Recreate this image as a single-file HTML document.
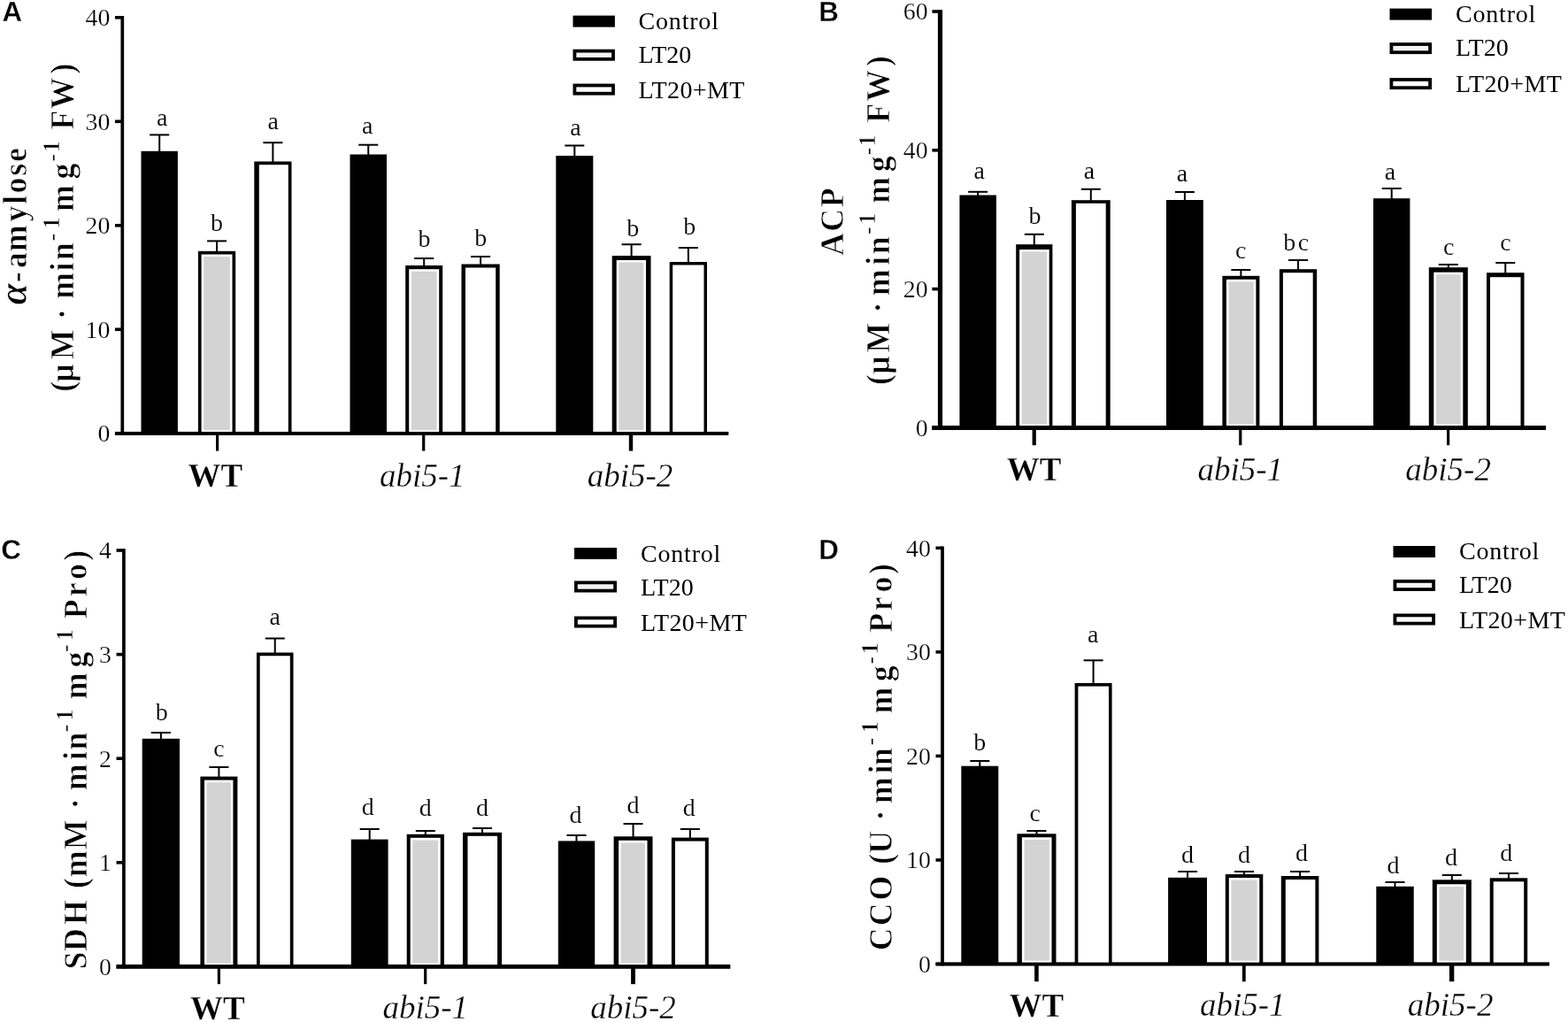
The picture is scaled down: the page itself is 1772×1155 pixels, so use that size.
<!DOCTYPE html>
<html lang="en">
<head>
<meta charset="utf-8">
<title>Figure</title>
<style>
html,body{margin:0;padding:0;background:#fff;}
body{width:1772px;height:1155px;overflow:hidden;}
svg{display:block;}
text{fill:#000;font-family:'Liberation Serif', 'DejaVu Serif', serif;stroke:#fff;stroke-width:0.45px;stroke-linejoin:round;}
.yl{stroke-width:0.7px;}
.gb{stroke-width:0.3px;}
.lt{stroke-width:0.15px;}
.tk{stroke-width:0.25px;}
.lg{stroke:none;}
.gi{stroke-width:0.3px;}
.lab{stroke-width:0.3px;}
.lab{font-family:'Liberation Sans', 'DejaVu Sans', sans-serif;font-weight:bold;}
.gb{font-weight:bold;}
.gi{font-style:italic;}
.yl{font-weight:bold;}
</style>
</head>
<body>
<svg width="1772" height="1155" viewBox="0 0 1772 1155">
<rect x="0" y="0" width="1772" height="1155" fill="#fff"/>
<text x="2.50" y="24.20" font-size="31.3" text-anchor="start" class="lab" >A</text>
<rect x="136.45" y="18.00" width="3.70" height="473.65" fill="#000" />
<rect x="129.95" y="487.95" width="693.25" height="3.70" fill="#000" />
<text x="124.40" y="499.20" font-size="27.8" text-anchor="end" class="tk" >0</text>
<rect x="129.95" y="370.50" width="8.35" height="3.60" fill="#000" />
<text x="124.40" y="381.70" font-size="27.8" text-anchor="end" class="tk" >10</text>
<rect x="129.95" y="253.00" width="8.35" height="3.60" fill="#000" />
<text x="124.40" y="264.20" font-size="27.8" text-anchor="end" class="tk" >20</text>
<rect x="129.95" y="135.50" width="8.35" height="3.60" fill="#000" />
<text x="124.40" y="146.70" font-size="27.8" text-anchor="end" class="tk" >30</text>
<rect x="129.95" y="18.00" width="8.35" height="3.60" fill="#000" />
<text x="124.40" y="29.20" font-size="27.8" text-anchor="end" class="tk" >40</text>
<rect x="244.00" y="489.80" width="3.20" height="19.80" fill="#000" />
<text x="243.30" y="549.70" font-size="37" text-anchor="middle" class="gb" >WT</text>
<rect x="179.20" y="152.40" width="2.00" height="20.40" fill="#000" />
<rect x="169.20" y="151.40" width="22.00" height="2.00" fill="#000" />
<rect x="159.50" y="170.80" width="41.40" height="319.00" fill="#000" />
<text x="183.20" y="142.30" font-size="28" text-anchor="middle" class="lt" >a</text>
<rect x="244.05" y="272.40" width="2.00" height="13.40" fill="#000" />
<rect x="234.05" y="271.40" width="22.00" height="2.00" fill="#000" />
<rect x="223.90" y="283.80" width="42.30" height="206.00" fill="#000" />
<rect x="227.60" y="287.50" width="34.90" height="202.30" fill="#fff" />
<rect x="230.20" y="290.10" width="29.70" height="195.85" fill="#d3d3d3" rx="1.2" ry="1.2"/>
<text x="245.05" y="261.10" font-size="28" text-anchor="middle" class="lt" >b</text>
<rect x="307.40" y="161.20" width="2.00" height="23.30" fill="#000" />
<rect x="297.40" y="160.20" width="22.00" height="2.00" fill="#000" />
<rect x="287.30" y="182.50" width="42.20" height="307.30" fill="#000" />
<rect x="292.80" y="186.20" width="33.00" height="303.60" fill="#fff" />
<text x="308.60" y="146.10" font-size="28" text-anchor="middle" class="lt" >a</text>
<rect x="477.10" y="489.80" width="3.20" height="19.80" fill="#000" />
<text x="477.20" y="549.70" font-size="37" text-anchor="middle" class="gi" >abi5-1</text>
<rect x="415.25" y="163.70" width="2.00" height="12.80" fill="#000" />
<rect x="405.25" y="162.70" width="22.00" height="2.00" fill="#000" />
<rect x="395.50" y="174.50" width="41.50" height="315.30" fill="#000" />
<text x="415.20" y="151.10" font-size="28" text-anchor="middle" class="lt" >a</text>
<rect x="478.20" y="292.00" width="2.00" height="10.00" fill="#000" />
<rect x="468.20" y="291.00" width="22.00" height="2.00" fill="#000" />
<rect x="458.20" y="300.00" width="42.00" height="189.80" fill="#000" />
<rect x="462.20" y="304.20" width="34.00" height="185.60" fill="#fff" />
<rect x="464.80" y="306.80" width="28.80" height="179.15" fill="#d3d3d3" rx="1.2" ry="1.2"/>
<text x="479.40" y="279.20" font-size="28" text-anchor="middle" class="lt" >b</text>
<rect x="542.10" y="290.00" width="2.00" height="10.50" fill="#000" />
<rect x="532.10" y="289.00" width="22.00" height="2.00" fill="#000" />
<rect x="521.50" y="298.50" width="43.20" height="191.30" fill="#000" />
<rect x="526.00" y="302.50" width="34.20" height="187.30" fill="#fff" />
<text x="543.30" y="278.40" font-size="28" text-anchor="middle" class="lt" >b</text>
<rect x="710.80" y="489.80" width="4.40" height="19.80" fill="#000" />
<text x="712.00" y="549.70" font-size="37" text-anchor="middle" class="gi" >abi5-2</text>
<rect x="648.30" y="164.50" width="2.00" height="13.50" fill="#000" />
<rect x="638.30" y="163.50" width="22.00" height="2.00" fill="#000" />
<rect x="628.30" y="176.00" width="42.00" height="313.80" fill="#000" />
<text x="650.50" y="153.10" font-size="28" text-anchor="middle" class="lt" >a</text>
<rect x="712.60" y="276.20" width="2.00" height="14.80" fill="#000" />
<rect x="702.60" y="275.20" width="22.00" height="2.00" fill="#000" />
<rect x="691.70" y="289.00" width="43.80" height="200.80" fill="#000" />
<rect x="696.70" y="294.00" width="33.30" height="195.80" fill="#fff" />
<rect x="699.30" y="296.60" width="28.10" height="189.35" fill="#d3d3d3" rx="1.2" ry="1.2"/>
<text x="715.20" y="266.60" font-size="28" text-anchor="middle" class="lt" >b</text>
<rect x="776.85" y="280.00" width="2.00" height="18.00" fill="#000" />
<rect x="766.85" y="279.00" width="22.00" height="2.00" fill="#000" />
<rect x="756.70" y="296.00" width="42.30" height="193.80" fill="#000" />
<rect x="760.20" y="299.50" width="35.30" height="190.30" fill="#fff" />
<text x="779.20" y="264.60" font-size="28" text-anchor="middle" class="lt" >b</text>
<rect x="129.95" y="487.95" width="693.25" height="3.70" fill="#000" />
<rect x="647.50" y="17.60" width="47.40" height="13.00" fill="#000" />
<text x="721.60" y="33.20" font-size="28" text-anchor="start" class="lg" letter-spacing="0.8">Control</text>
<rect x="649.40" y="57.60" width="43.60" height="9.20" fill="#f4f4f4" stroke="#000" stroke-width="3.8"/>
<text x="721.60" y="70.80" font-size="28" text-anchor="start" class="lg" letter-spacing="0.0">LT20</text>
<rect x="649.40" y="96.50" width="43.60" height="9.20" fill="#fff" stroke="#000" stroke-width="3.8"/>
<text x="721.60" y="110.60" font-size="28" text-anchor="start" class="lg" letter-spacing="0.4">LT20+MT</text>
<text transform="translate(29.50,0) rotate(-90) scale(1,1.05)" font-size="35.71" class="yl" x="-344.4 -319.2 -303.1 -284.2 -250.5 -230.7 -218.5 -198.8 -183.1" y="0 0 0 0 0 0 0 0 0"><tspan font-size="43.81" font-style="italic">α</tspan>-amylose</text>
<text transform="translate(83.00,0) rotate(-90) scale(1,1.05)" font-size="35.71" class="yl" x="-442.8 -431.8 -406.2 -371.2 -360.9 -347.7 -337.7 -306.4 -293.9 -272.6 -258.8 -247.4 -238.9 -202.6 -182.7 -172.2 -157.2 -146.5 -123.2 -83.5" y="0 0 0 0 0 0 0 0 0 -15.2 -15.2 0 0 0 -15.2 -15.2 0 0 0 0">(μM · min<tspan font-size="26.67">-1</tspan> mg<tspan font-size="26.67">-1</tspan> FW)</text>
<text x="925.30" y="24.00" font-size="31.3" text-anchor="start" class="lab" >B</text>
<rect x="1059.90" y="11.20" width="5.20" height="474.60" fill="#000" />
<rect x="1053.40" y="481.00" width="693.60" height="4.80" fill="#000" />
<text x="1048.60" y="492.80" font-size="27.8" text-anchor="end" class="tk" >0</text>
<rect x="1053.40" y="324.80" width="9.10" height="3.60" fill="#000" />
<text x="1048.60" y="336.00" font-size="27.8" text-anchor="end" class="tk" >20</text>
<rect x="1053.40" y="168.00" width="9.10" height="3.60" fill="#000" />
<text x="1048.60" y="179.20" font-size="27.8" text-anchor="end" class="tk" >40</text>
<rect x="1053.40" y="11.20" width="9.10" height="3.60" fill="#000" />
<text x="1048.60" y="22.40" font-size="27.8" text-anchor="end" class="tk" >60</text>
<rect x="1166.60" y="483.40" width="4.20" height="19.80" fill="#000" />
<text x="1168.70" y="543.20" font-size="37" text-anchor="middle" class="gb" >WT</text>
<rect x="1104.15" y="216.80" width="2.00" height="5.70" fill="#000" />
<rect x="1094.15" y="215.80" width="22.00" height="2.00" fill="#000" />
<rect x="1084.40" y="220.50" width="41.50" height="262.90" fill="#000" />
<text x="1106.60" y="201.90" font-size="28" text-anchor="middle" class="lt" >a</text>
<rect x="1167.80" y="264.80" width="2.00" height="13.40" fill="#000" />
<rect x="1157.80" y="263.80" width="22.00" height="2.00" fill="#000" />
<rect x="1148.20" y="276.20" width="41.20" height="207.20" fill="#000" />
<rect x="1152.10" y="282.00" width="33.60" height="201.40" fill="#fff" />
<rect x="1154.70" y="284.60" width="28.40" height="194.95" fill="#d3d3d3" rx="1.2" ry="1.2"/>
<text x="1169.40" y="253.20" font-size="28" text-anchor="middle" class="lt" >b</text>
<rect x="1231.80" y="213.80" width="2.00" height="14.40" fill="#000" />
<rect x="1221.80" y="212.80" width="22.00" height="2.00" fill="#000" />
<rect x="1210.90" y="226.20" width="43.80" height="257.20" fill="#000" />
<rect x="1215.90" y="229.80" width="33.80" height="253.60" fill="#fff" />
<text x="1231.00" y="201.90" font-size="28" text-anchor="middle" class="lt" >a</text>
<rect x="1400.20" y="483.40" width="3.20" height="19.80" fill="#000" />
<text x="1401.80" y="543.20" font-size="37" text-anchor="middle" class="gi" >abi5-1</text>
<rect x="1337.90" y="217.00" width="2.00" height="11.00" fill="#000" />
<rect x="1327.90" y="216.00" width="22.00" height="2.00" fill="#000" />
<rect x="1318.00" y="226.00" width="41.80" height="257.40" fill="#000" />
<text x="1336.00" y="205.40" font-size="28" text-anchor="middle" class="lt" >a</text>
<rect x="1401.40" y="305.00" width="2.00" height="8.80" fill="#000" />
<rect x="1391.40" y="304.00" width="22.00" height="2.00" fill="#000" />
<rect x="1381.40" y="311.80" width="42.00" height="171.60" fill="#000" />
<rect x="1385.90" y="315.80" width="33.50" height="167.60" fill="#fff" />
<rect x="1388.50" y="318.40" width="28.30" height="161.15" fill="#d3d3d3" rx="1.2" ry="1.2"/>
<text x="1402.30" y="292.40" font-size="28" text-anchor="middle" class="lt" >c</text>
<rect x="1466.05" y="294.00" width="2.00" height="12.20" fill="#000" />
<rect x="1456.05" y="293.00" width="22.00" height="2.00" fill="#000" />
<rect x="1445.90" y="304.20" width="42.30" height="179.20" fill="#000" />
<rect x="1449.90" y="308.20" width="33.80" height="175.20" fill="#fff" />
<text x="1466.00" y="283.20" font-size="28" text-anchor="middle" class="lt" letter-spacing="2.5">bc</text>
<rect x="1635.00" y="483.40" width="3.20" height="19.80" fill="#000" />
<text x="1636.60" y="543.20" font-size="37" text-anchor="middle" class="gi" >abi5-2</text>
<rect x="1571.70" y="213.00" width="2.00" height="13.20" fill="#000" />
<rect x="1561.70" y="212.00" width="22.00" height="2.00" fill="#000" />
<rect x="1552.00" y="224.20" width="41.40" height="259.20" fill="#000" />
<text x="1571.00" y="202.80" font-size="28" text-anchor="middle" class="lt" >a</text>
<rect x="1635.80" y="299.00" width="2.00" height="5.20" fill="#000" />
<rect x="1625.80" y="298.00" width="22.00" height="2.00" fill="#000" />
<rect x="1614.80" y="302.20" width="44.00" height="181.20" fill="#000" />
<rect x="1620.30" y="307.70" width="33.00" height="175.70" fill="#fff" />
<rect x="1622.90" y="310.30" width="27.80" height="169.25" fill="#d3d3d3" rx="1.2" ry="1.2"/>
<text x="1637.30" y="287.60" font-size="28" text-anchor="middle" class="lt" >c</text>
<rect x="1700.25" y="297.00" width="2.00" height="13.20" fill="#000" />
<rect x="1690.25" y="296.00" width="22.00" height="2.00" fill="#000" />
<rect x="1680.00" y="308.20" width="42.50" height="175.20" fill="#000" />
<rect x="1684.00" y="313.20" width="34.50" height="170.20" fill="#fff" />
<text x="1701.50" y="283.20" font-size="28" text-anchor="middle" class="lt" >c</text>
<rect x="1053.40" y="481.00" width="693.60" height="4.80" fill="#000" />
<rect x="1570.50" y="9.60" width="47.50" height="13.00" fill="#000" />
<text x="1645.00" y="25.00" font-size="28" text-anchor="start" class="lg" letter-spacing="0.8">Control</text>
<rect x="1572.40" y="50.00" width="43.70" height="9.20" fill="#f4f4f4" stroke="#000" stroke-width="3.8"/>
<text x="1645.00" y="62.80" font-size="28" text-anchor="start" class="lg" letter-spacing="0.0">LT20</text>
<rect x="1572.40" y="90.00" width="43.70" height="9.20" fill="#fff" stroke="#000" stroke-width="3.8"/>
<text x="1645.00" y="103.60" font-size="28" text-anchor="start" class="lg" letter-spacing="0.4">LT20+MT</text>
<text transform="translate(952.80,0) rotate(-90) scale(1,1.05)" font-size="35.71" class="yl" x="-289.1 -261.7 -234.2" y="0 0 0">ACP</text>
<text transform="translate(1005.30,0) rotate(-90) scale(1,1.05)" font-size="35.71" class="yl" x="-435.1 -422.8 -398.4 -362.9 -353.4 -342.2 -334.2 -299.8 -287.2 -264.9 -254.1 -239.6 -229.8 -194.2 -175.2 -165.7 -149.7 -138.8 -114.5 -75.0" y="0 0 0 0 0 0 0 0 0 -15.2 -15.2 0 0 0 -15.2 -15.2 0 0 0 0">(μM · min<tspan font-size="26.67">-1</tspan> mg<tspan font-size="26.67">-1</tspan> FW)</text>
<text x="1.30" y="632.00" font-size="31.3" text-anchor="start" class="lab" >C</text>
<rect x="138.05" y="620.20" width="3.70" height="474.40" fill="#000" />
<rect x="131.55" y="1090.20" width="693.65" height="4.40" fill="#000" />
<text x="126.00" y="1101.80" font-size="27.8" text-anchor="end" class="tk" >0</text>
<rect x="131.55" y="973.00" width="8.35" height="3.60" fill="#000" />
<text x="126.00" y="984.20" font-size="27.8" text-anchor="end" class="tk" >1</text>
<rect x="131.55" y="855.40" width="8.35" height="3.60" fill="#000" />
<text x="126.00" y="866.60" font-size="27.8" text-anchor="end" class="tk" >2</text>
<rect x="131.55" y="737.80" width="8.35" height="3.60" fill="#000" />
<text x="126.00" y="749.00" font-size="27.8" text-anchor="end" class="tk" >3</text>
<rect x="131.55" y="620.20" width="8.35" height="3.60" fill="#000" />
<text x="126.00" y="631.40" font-size="27.8" text-anchor="end" class="tk" >4</text>
<rect x="245.80" y="1092.40" width="3.20" height="19.80" fill="#000" />
<text x="245.90" y="1152.40" font-size="37" text-anchor="middle" class="gb" >WT</text>
<rect x="180.85" y="828.00" width="2.00" height="8.80" fill="#000" />
<rect x="170.85" y="827.00" width="22.00" height="2.00" fill="#000" />
<rect x="160.70" y="834.80" width="42.30" height="257.60" fill="#000" />
<text x="182.80" y="813.90" font-size="28" text-anchor="middle" class="lt" >b</text>
<rect x="246.40" y="867.00" width="2.00" height="12.60" fill="#000" />
<rect x="236.40" y="866.00" width="22.00" height="2.00" fill="#000" />
<rect x="226.40" y="877.60" width="42.00" height="214.80" fill="#000" />
<rect x="231.00" y="881.60" width="32.40" height="210.80" fill="#fff" />
<rect x="233.60" y="884.20" width="27.20" height="204.35" fill="#d3d3d3" rx="1.2" ry="1.2"/>
<text x="247.40" y="855.40" font-size="28" text-anchor="middle" class="lt" >c</text>
<rect x="309.75" y="721.50" width="2.00" height="18.00" fill="#000" />
<rect x="299.75" y="720.50" width="22.00" height="2.00" fill="#000" />
<rect x="290.00" y="737.50" width="41.50" height="354.90" fill="#000" />
<rect x="293.70" y="741.20" width="34.10" height="351.20" fill="#fff" />
<text x="310.75" y="705.50" font-size="28" text-anchor="middle" class="lt" >a</text>
<rect x="479.10" y="1092.40" width="3.20" height="19.80" fill="#000" />
<text x="480.70" y="1150.80" font-size="37" text-anchor="middle" class="gi" >abi5-1</text>
<rect x="416.70" y="937.00" width="2.00" height="13.60" fill="#000" />
<rect x="406.70" y="936.00" width="22.00" height="2.00" fill="#000" />
<rect x="396.80" y="948.60" width="41.80" height="143.80" fill="#000" />
<text x="415.80" y="921.00" font-size="28" text-anchor="middle" class="lt" >d</text>
<rect x="479.80" y="939.00" width="2.00" height="5.80" fill="#000" />
<rect x="469.80" y="938.00" width="22.00" height="2.00" fill="#000" />
<rect x="459.70" y="942.80" width="42.20" height="149.60" fill="#000" />
<rect x="463.70" y="946.80" width="34.00" height="145.60" fill="#fff" />
<rect x="466.30" y="949.40" width="28.80" height="139.15" fill="#d3d3d3" rx="1.2" ry="1.2"/>
<text x="480.80" y="922.00" font-size="28" text-anchor="middle" class="lt" >d</text>
<rect x="544.05" y="936.00" width="2.00" height="6.80" fill="#000" />
<rect x="534.05" y="935.00" width="22.00" height="2.00" fill="#000" />
<rect x="523.00" y="940.80" width="44.10" height="151.60" fill="#000" />
<rect x="528.50" y="944.80" width="33.60" height="147.60" fill="#fff" />
<text x="545.05" y="922.00" font-size="28" text-anchor="middle" class="lt" >d</text>
<rect x="713.10" y="1092.40" width="4.80" height="19.80" fill="#000" />
<text x="715.50" y="1150.80" font-size="37" text-anchor="middle" class="gi" >abi5-2</text>
<rect x="650.50" y="944.00" width="2.00" height="8.40" fill="#000" />
<rect x="640.50" y="943.00" width="22.00" height="2.00" fill="#000" />
<rect x="630.80" y="950.40" width="41.40" height="142.00" fill="#000" />
<text x="650.50" y="930.00" font-size="28" text-anchor="middle" class="lt" >d</text>
<rect x="714.55" y="931.00" width="2.00" height="16.30" fill="#000" />
<rect x="704.55" y="930.00" width="22.00" height="2.00" fill="#000" />
<rect x="693.60" y="945.30" width="43.90" height="147.10" fill="#000" />
<rect x="699.10" y="949.80" width="32.40" height="142.60" fill="#fff" />
<rect x="701.70" y="952.40" width="27.20" height="136.15" fill="#d3d3d3" rx="1.2" ry="1.2"/>
<text x="715.40" y="919.00" font-size="28" text-anchor="middle" class="lt" >d</text>
<rect x="778.85" y="937.00" width="2.00" height="11.60" fill="#000" />
<rect x="768.85" y="936.00" width="22.00" height="2.00" fill="#000" />
<rect x="758.90" y="946.60" width="41.90" height="145.80" fill="#000" />
<rect x="762.90" y="950.60" width="33.90" height="141.80" fill="#fff" />
<text x="778.80" y="922.00" font-size="28" text-anchor="middle" class="lt" >d</text>
<rect x="131.55" y="1090.20" width="693.65" height="4.40" fill="#000" />
<rect x="649.00" y="619.00" width="48.00" height="13.00" fill="#000" />
<text x="724.00" y="635.00" font-size="28" text-anchor="start" class="lg" letter-spacing="0.8">Control</text>
<rect x="650.90" y="658.40" width="44.20" height="9.20" fill="#f4f4f4" stroke="#000" stroke-width="3.8"/>
<text x="724.00" y="673.00" font-size="28" text-anchor="start" class="lg" letter-spacing="0.0">LT20</text>
<rect x="650.90" y="698.40" width="44.20" height="9.20" fill="#fff" stroke="#000" stroke-width="3.8"/>
<text x="724.00" y="713.00" font-size="28" text-anchor="start" class="lg" letter-spacing="0.4">LT20+MT</text>
<text transform="translate(97.80,0) rotate(-90) scale(1,1.05)" font-size="35.71" class="yl" x="-1095.5 -1075.0 -1045.0 -1014.5 -1003.9 -991.3 -960.0 -924.3 -914.3 -902.2 -893.3 -859.1 -847.6 -827.4 -814.8 -800.4 -790.3 -754.4 -737.0 -724.3 -709.4 -699.2 -674.3 -655.0 -633.8" y="0 0 0 0 0 0 0 0 0 0 0 0 0 -15.2 -15.2 0 0 0 -15.2 -15.2 0 0 0 0 0">SDH (mM · min<tspan font-size="26.67">-1</tspan> mg<tspan font-size="26.67">-1</tspan> Pro)</text>
<text x="925.20" y="632.00" font-size="31.3" text-anchor="start" class="lab" >D</text>
<rect x="1063.10" y="617.50" width="3.80" height="473.85" fill="#000" />
<rect x="1057.50" y="1087.65" width="693.40" height="3.70" fill="#000" />
<text x="1051.80" y="1098.90" font-size="27.8" text-anchor="end" class="tk" >0</text>
<rect x="1057.50" y="970.15" width="7.50" height="3.60" fill="#000" />
<text x="1051.80" y="981.35" font-size="27.8" text-anchor="end" class="tk" >10</text>
<rect x="1057.50" y="852.60" width="7.50" height="3.60" fill="#000" />
<text x="1051.80" y="863.80" font-size="27.8" text-anchor="end" class="tk" >20</text>
<rect x="1057.50" y="735.05" width="7.50" height="3.60" fill="#000" />
<text x="1051.80" y="746.25" font-size="27.8" text-anchor="end" class="tk" >30</text>
<rect x="1057.50" y="617.50" width="7.50" height="3.60" fill="#000" />
<text x="1051.80" y="628.70" font-size="27.8" text-anchor="end" class="tk" >40</text>
<rect x="1169.10" y="1089.50" width="4.60" height="19.80" fill="#000" />
<text x="1171.40" y="1149.10" font-size="37" text-anchor="middle" class="gb" >WT</text>
<rect x="1106.30" y="860.00" width="2.00" height="7.70" fill="#000" />
<rect x="1096.30" y="859.00" width="22.00" height="2.00" fill="#000" />
<rect x="1086.30" y="865.70" width="42.00" height="223.80" fill="#000" />
<text x="1107.30" y="848.20" font-size="28" text-anchor="middle" class="lt" >b</text>
<rect x="1170.45" y="939.00" width="2.00" height="5.30" fill="#000" />
<rect x="1160.45" y="938.00" width="22.00" height="2.00" fill="#000" />
<rect x="1149.40" y="942.30" width="44.10" height="147.20" fill="#000" />
<rect x="1154.90" y="946.30" width="33.60" height="143.20" fill="#fff" />
<rect x="1157.50" y="948.90" width="28.40" height="136.75" fill="#d3d3d3" rx="1.2" ry="1.2"/>
<text x="1169.60" y="928.40" font-size="28" text-anchor="middle" class="lt" >c</text>
<rect x="1234.60" y="746.30" width="2.00" height="27.70" fill="#000" />
<rect x="1224.60" y="745.30" width="22.00" height="2.00" fill="#000" />
<rect x="1214.60" y="772.00" width="42.00" height="317.50" fill="#000" />
<rect x="1218.40" y="775.60" width="34.60" height="313.90" fill="#fff" />
<text x="1235.20" y="726.40" font-size="28" text-anchor="middle" class="lt" >a</text>
<rect x="1403.90" y="1089.50" width="3.80" height="19.80" fill="#000" />
<text x="1404.30" y="1147.50" font-size="37" text-anchor="middle" class="gi" >abi5-1</text>
<rect x="1341.05" y="985.00" width="2.00" height="8.80" fill="#000" />
<rect x="1331.05" y="984.00" width="22.00" height="2.00" fill="#000" />
<rect x="1320.10" y="991.80" width="43.90" height="97.70" fill="#000" />
<text x="1342.05" y="974.70" font-size="28" text-anchor="middle" class="lt" >d</text>
<rect x="1405.05" y="985.00" width="2.00" height="5.00" fill="#000" />
<rect x="1395.05" y="984.00" width="22.00" height="2.00" fill="#000" />
<rect x="1384.80" y="988.00" width="42.50" height="101.50" fill="#000" />
<rect x="1388.80" y="992.00" width="34.50" height="97.50" fill="#fff" />
<rect x="1391.40" y="994.60" width="29.30" height="91.05" fill="#d3d3d3" rx="1.2" ry="1.2"/>
<text x="1406.05" y="974.70" font-size="28" text-anchor="middle" class="lt" >d</text>
<rect x="1468.10" y="985.00" width="2.00" height="7.00" fill="#000" />
<rect x="1458.10" y="984.00" width="22.00" height="2.00" fill="#000" />
<rect x="1447.80" y="990.00" width="42.60" height="99.50" fill="#000" />
<rect x="1452.80" y="994.00" width="33.60" height="95.50" fill="#fff" />
<text x="1471.00" y="972.90" font-size="28" text-anchor="middle" class="lt" >d</text>
<rect x="1637.90" y="1089.50" width="5.40" height="19.80" fill="#000" />
<text x="1639.10" y="1147.50" font-size="37" text-anchor="middle" class="gi" >abi5-2</text>
<rect x="1575.50" y="997.00" width="2.00" height="6.80" fill="#000" />
<rect x="1565.50" y="996.00" width="22.00" height="2.00" fill="#000" />
<rect x="1555.30" y="1001.80" width="42.40" height="87.70" fill="#000" />
<text x="1574.60" y="986.70" font-size="28" text-anchor="middle" class="lt" >d</text>
<rect x="1639.80" y="989.00" width="2.00" height="7.30" fill="#000" />
<rect x="1629.80" y="988.00" width="22.00" height="2.00" fill="#000" />
<rect x="1618.80" y="994.30" width="44.00" height="95.20" fill="#000" />
<rect x="1623.80" y="999.30" width="33.00" height="90.20" fill="#fff" />
<rect x="1626.40" y="1001.90" width="27.80" height="83.75" fill="#d3d3d3" rx="1.2" ry="1.2"/>
<text x="1640.00" y="977.70" font-size="28" text-anchor="middle" class="lt" >d</text>
<rect x="1703.95" y="987.00" width="2.00" height="7.30" fill="#000" />
<rect x="1693.95" y="986.00" width="22.00" height="2.00" fill="#000" />
<rect x="1683.70" y="992.30" width="42.50" height="97.20" fill="#000" />
<rect x="1687.70" y="996.30" width="34.50" height="93.20" fill="#fff" />
<text x="1702.30" y="972.70" font-size="28" text-anchor="middle" class="lt" >d</text>
<rect x="1057.50" y="1087.65" width="693.40" height="3.70" fill="#000" />
<rect x="1574.50" y="617.00" width="47.50" height="13.00" fill="#000" />
<text x="1649.00" y="632.00" font-size="28" text-anchor="start" class="lg" letter-spacing="0.8">Control</text>
<rect x="1576.40" y="656.90" width="43.70" height="9.20" fill="#f4f4f4" stroke="#000" stroke-width="3.8"/>
<text x="1649.00" y="670.00" font-size="28" text-anchor="start" class="lg" letter-spacing="0.0">LT20</text>
<rect x="1576.40" y="695.40" width="43.70" height="9.20" fill="#fff" stroke="#000" stroke-width="3.8"/>
<text x="1649.00" y="710.00" font-size="28" text-anchor="start" class="lg" letter-spacing="0.4">LT20+MT</text>
<text transform="translate(1008.30,0) rotate(-90) scale(1,1.05)" font-size="35.71" class="yl" x="-1074.2 -1046.2 -1017.5 -987.3 -976.8 -964.8 -937.0 -927.5 -916.1 -908.2 -874.5 -865.1 -842.5 -828.6 -814.9 -806.6 -770.2 -750.8 -739.6 -725.0 -714.8 -690.2 -669.6 -649.0" y="0 0 0 0 0 0 0 0 0 0 0 0 -15.2 -15.2 0 0 0 -15.2 -15.2 0 0 0 0 0">CCO (U · min<tspan font-size="26.67">-1</tspan> mg<tspan font-size="26.67">-1</tspan> Pro)</text>
</svg>
</body>
</html>
